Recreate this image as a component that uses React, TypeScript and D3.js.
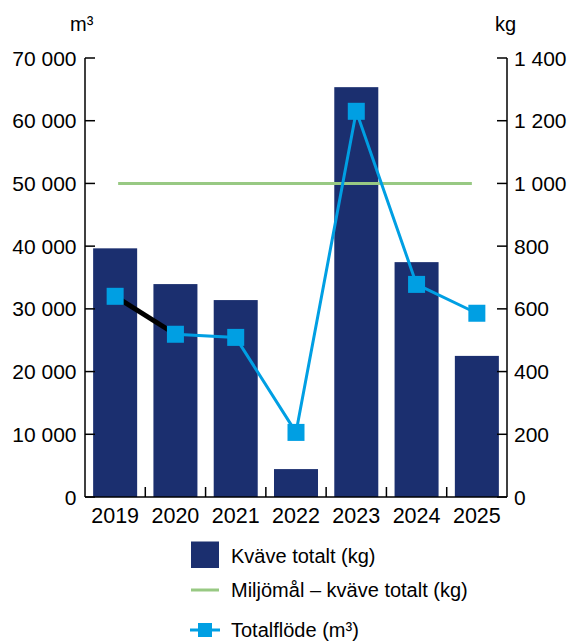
import React from "react";
import * as d3 from "d3";

const years = ["2019", "2020", "2021", "2022", "2023", "2024", "2025"];
const kvaveKg = [793, 679, 628, 89, 1307, 749, 450];
const totalflodeM3 = [32000, 25950, 25450, 10300, 61500, 33900, 29300];
const miljomalKg = 1000;
const leftTicks = [0, 10000, 20000, 30000, 40000, 50000, 60000, 70000];
const rightTicks = [0, 200, 400, 600, 800, 1000, 1200, 1400];
const legendLabels = ["Kväve totalt (kg)", "Miljömål – kväve totalt (kg)", "Totalflöde (m³)"];

const BAR = "#1b2f6f";
const BLUE = "#009fe3";
const GREEN = "#98c983";
const FONT = "'Liberation Sans', Arial, Helvetica, sans-serif";

const fmt = d3.formatLocale({ decimal: ",", thousands: " ", grouping: [3], currency: ["", " kr"] }).format(",d");

export default function App() {
  const left = 85, right = 507, top = 58, bottom = 497;
  const x = d3.scaleBand<string>().domain(years).range([left, right]).paddingInner(0.27).paddingOuter(0.135);
  const yL = d3.scaleLinear().domain([0, 70000]).range([bottom, top]);
  const yR = d3.scaleLinear().domain([0, 1400]).range([bottom, top]);
  const cx = (y: string) => (x(y) as number) + x.bandwidth() / 2;
  const step = x.step();
  const line = d3.line<number>().x((_, i) => cx(years[i])).y((d) => yL(d));
  const ms = 17;

  return (
    <svg width={570} height={641} style={{ position: "absolute", left: 0, top: 0, fontFamily: FONT }}>
      {/* units */}
      <text x={70} y={30.5} fontSize={20} fill="#000">m³</text>
      <text x={495} y={30.5} fontSize={20} fill="#000">kg</text>

      {/* bars */}
      {years.map((yr, i) => (
        <rect key={yr} x={x(yr)} y={yR(kvaveKg[i])} width={x.bandwidth()} height={bottom - yR(kvaveKg[i])} fill={BAR} />
      ))}

      {/* miljömål */}
      <line x1={cx(years[0]) + 3} x2={cx(years[years.length - 1]) - 5} y1={yR(miljomalKg)} y2={yR(miljomalKg)} stroke={GREEN} strokeWidth={3} />

      {/* flow line */}
      <path d={line(totalflodeM3) || ""} fill="none" stroke={BLUE} strokeWidth={3} />
      <line x1={cx(years[0])} y1={yL(totalflodeM3[0])} x2={cx(years[1])} y2={yL(totalflodeM3[1])} stroke="#000" strokeWidth={5} />
      {years.map((yr, i) => (
        <rect key={yr} x={cx(yr) - ms / 2} y={yL(totalflodeM3[i]) - ms / 2} width={ms} height={ms} fill={BLUE} />
      ))}

      {/* axes */}
      <g stroke="#000" strokeWidth={1.5} fill="none">
        <line x1={left} x2={left} y1={top} y2={bottom} />
        <line x1={right} x2={right} y1={top} y2={bottom} />
        <line x1={left} x2={right} y1={bottom} y2={bottom} />
        {leftTicks.map((t) => (
          <line key={"l" + t} x1={left} x2={left + 10} y1={yL(t)} y2={yL(t)} />
        ))}
        {rightTicks.map((t) => (
          <line key={"r" + t} x1={right - 10} x2={right} y1={yR(t)} y2={yR(t)} />
        ))}
        {years.slice(1).map((yr) => (
          <line key={"b" + yr} x1={(x(yr) as number) - (step - x.bandwidth()) / 2} x2={(x(yr) as number) - (step - x.bandwidth()) / 2} y1={bottom} y2={bottom - 10} />
        ))}
      </g>
      {leftTicks.map((t) => (
        <text key={"lt" + t} x={76.5} y={yL(t)} dy="0.36em" textAnchor="end" fontSize={21} fill="#000">{fmt(t)}</text>
      ))}
      {rightTicks.map((t) => (
        <text key={"rt" + t} x={514} y={yR(t)} dy="0.36em" textAnchor="start" fontSize={21} fill="#000">{fmt(t)}</text>
      ))}
      {years.map((yr) => (
        <text key={"y" + yr} x={cx(yr)} y={522.5} textAnchor="middle" fontSize={21.5} fill="#000">{yr}</text>
      ))}

      {/* legend */}
      <rect x={191} y={541.5} width={28} height={26.5} fill={BAR} />
      <text x={231} y={563} fontSize={20} fill="#000">{legendLabels[0]}</text>
      <line x1={191} x2={219} y1={590} y2={590} stroke={GREEN} strokeWidth={3} />
      <text x={231} y={597} fontSize={20} fill="#000">{legendLabels[1]}</text>
      <line x1={190} x2={220} y1={630} y2={630} stroke={BLUE} strokeWidth={3} />
      <rect x={198} y={623} width={14} height={14} fill={BLUE} />
      <text x={231} y={637} fontSize={20} fill="#000">{legendLabels[2]}</text>
    </svg>
  );
}
